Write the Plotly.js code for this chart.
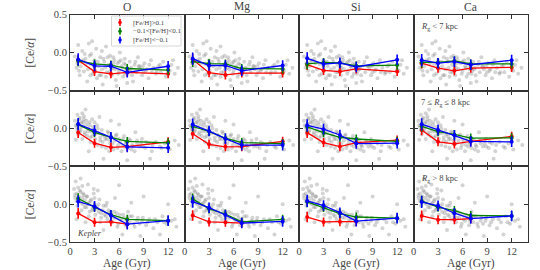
<!DOCTYPE html>
<html><head><meta charset="utf-8">
<script src="https://cdn.plot.ly/plotly-3.0.1.min.js"></script>
<style>html,body{margin:0;padding:0;background:#fff}#chart{width:540px;height:270px}</style>
</head><body><div id="chart"></div>
<script>
// ---------- data ----------
const elements = ['O', 'Mg', 'Si', 'Ca'];
const rowLabels = ['<i>R</i><sub>g</sub> &lt; 7 kpc', '7 ≤ <i>R</i><sub>g</sub> ≤ 8 kpc', '<i>R</i><sub>g</sub> &gt; 8 kpc'];
const groupNames = ['[Fe/H]&gt;0.1', '−0.1&lt;[Fe/H]&lt;0.1', '[Fe/H]&lt;−0.1'];
const ages = [1, 3, 5, 7, 12];
const agesShort = [1, 3, 5, 7];
const xTicks = [0, 3, 6, 9, 12];

// rows: [O, Mg, Si, Ca]
const redRow1 = [[-0.10,-0.25,-0.28,-0.26,-0.28],[-0.09,-0.265,-0.295,-0.27,-0.27],[-0.16,-0.235,-0.25,-0.215,-0.25],[-0.14,-0.205,-0.24,-0.205,-0.195]];
const greenRow1 = [[-0.11,-0.15,-0.165,-0.21,-0.23],[-0.12,-0.145,-0.15,-0.21,-0.215],[-0.15,-0.13,-0.135,-0.175,-0.165],[-0.13,-0.13,-0.11,-0.15,-0.15]];
const blueRow1 = [[-0.09,-0.175,-0.18,-0.26,-0.18],[-0.08,-0.17,-0.17,-0.24,-0.17],[-0.075,-0.15,-0.135,-0.19,-0.095],[-0.10,-0.14,-0.12,-0.16,-0.10]];

const redRow2 = [[-0.055,-0.195,-0.25,-0.24,-0.177],[-0.07,-0.21,-0.243,-0.24,-0.17],[-0.056,-0.187,-0.24,-0.187,-0.155],[-0.02,-0.177,-0.205,-0.17,-0.105]];
const greenRow2 = [[0.05,-0.053,-0.117,-0.172,-0.19],[0.025,-0.04,-0.13,-0.187,-0.20],[0.02,-0.056,-0.117,-0.14,-0.17],[0.028,-0.043,-0.08,-0.128,-0.125]];
const blueRow2 = [[0.057,-0.03,-0.117,-0.245,-0.256],[0.05,-0.035,-0.135,-0.22,-0.22],[0.04,-0.01,-0.087,-0.20,-0.195],[0.055,-0.02,-0.09,-0.172,-0.177]];

const redRow3 = [[-0.122,-0.24,-0.233,-0.265],[-0.15,-0.235,-0.24,-0.25],[-0.17,-0.235,-0.232,-0.23],[-0.155,-0.205,-0.205,-0.19]];
const greenRow3 = [[0.075,-0.04,-0.14,-0.20,-0.218],[0.07,-0.062,-0.13,-0.235,-0.20],[0.03,-0.045,-0.125,-0.17,-0.185],[0.04,-0.04,-0.085,-0.15,-0.155]];
const blueRow3 = [[0.035,-0.03,-0.148,-0.265,-0.218],[0.033,-0.047,-0.143,-0.25,-0.228],[0.043,-0.018,-0.113,-0.225,-0.185],[0.03,-0.022,-0.12,-0.19,-0.155]];

const redErr = [0.07, 0.06, 0.06, 0.06, 0.06];
const greenErr = [0.07, 0.06, 0.06, 0.06, 0.06];
const blueErr = [0.08, 0.07, 0.07, 0.07, 0.07];

// background star clouds (hand-estimated, one per row)
const cloud1Age = [0.6,0.8,1.0,1.2,1.4,1.5,1.7,1.9,2.1,2.3,2.5,2.6,2.8,3.0,3.2,3.3,3.5,3.7,3.9,4.0,4.2,4.4,4.5,4.7,4.9,5.1,5.2,5.4,5.6,5.8,6.0,6.1,6.3,6.5,6.7,6.9,7.1,7.3,7.5,7.7,7.9,8.1,8.3,8.6,8.8,9.1,9.3,9.6,9.9,10.2,10.5,10.8,11.1,11.4,11.7,12.0,12.4,12.8,13.2,2.0,3.6,5.0,6.6,8.4,1.1,4.6,7.0,9.0,2.7,5.7,
  1.3,1.6,2.2,2.4,2.9,3.1,3.4,3.8,4.1,4.3,4.8,5.3,5.5,5.9,6.2,6.4,6.8,7.2,7.6,8.0,8.5,9.4,10.0,11.0,12.2,0.9,1.8,3.0,4.4,5.0,6.0,7.4,8.9,10.6,12.6,2.5,3.9,5.3,6.7,9.7];
const cloud1Val = [-0.05,-0.20,0.10,-0.30,-0.12,0.02,-0.25,-0.08,-0.38,0.12,-0.15,-0.02,-0.28,-0.10,0.05,-0.34,-0.18,-0.06,-0.22,-0.42,-0.12,0.08,-0.26,-0.16,-0.04,-0.30,-0.20,-0.10,-0.36,-0.14,-0.24,0.00,-0.18,-0.32,-0.08,-0.22,-0.28,-0.12,-0.20,-0.38,-0.16,-0.26,-0.06,-0.22,-0.30,-0.14,-0.24,-0.34,-0.10,-0.20,-0.28,-0.18,-0.26,-0.12,-0.32,-0.22,-0.16,-0.28,-0.20,-0.14,-0.30,-0.22,-0.14,-0.18,-0.24,-0.06,-0.40,-0.26,0.15,-0.44,
  -0.18,-0.10,-0.22,-0.04,-0.16,-0.24,-0.12,-0.30,-0.08,-0.20,-0.26,-0.14,-0.22,-0.28,-0.10,-0.20,-0.16,-0.24,-0.30,-0.12,-0.18,-0.22,-0.26,-0.16,-0.24,-0.14,-0.02,-0.20,-0.32,-0.18,-0.12,-0.22,-0.18,-0.26,-0.10,-0.30,0.02,-0.06,-0.28,-0.16];
const cloud2Age = [0.6,0.8,0.9,1.0,1.1,1.2,1.3,1.4,1.5,1.6,1.7,1.8,2.0,2.1,2.2,2.4,2.5,2.6,2.8,3.0,3.1,3.3,3.4,3.5,3.7,3.9,4.0,4.2,4.4,4.5,4.7,4.9,5.1,5.3,5.5,5.7,5.9,6.1,6.3,6.5,6.7,6.9,7.1,7.4,7.6,7.9,8.2,8.5,8.8,9.2,9.6,10.0,10.5,11.0,11.6,12.2,12.8,13.3,1.9,3.6,5.0,2.3,4.1,6.0,8.0,0.7,1.5,2.7,9.8,7.0,
  0.7,0.9,1.1,1.3,1.6,1.8,2.0,2.2,2.4,2.7,2.9,3.2,3.4,3.7,4.0,4.3,4.6,4.9,5.2,5.6,6.0,6.4,6.8,7.2,7.7,8.2,8.7,9.3,10.1,11.2,1.2,1.7,2.5,3.0,3.9,4.8,5.8,6.6,7.5,8.9];
const cloud2Val = [0.10,0.02,0.18,-0.08,0.06,0.14,-0.02,0.08,-0.14,0.03,0.12,-0.05,0.05,-0.10,0.00,0.08,-0.18,-0.04,0.02,-0.08,-0.14,0.04,-0.22,-0.06,-0.12,-0.02,-0.18,-0.10,-0.26,-0.14,-0.06,-0.20,-0.12,-0.28,-0.16,-0.08,-0.22,-0.18,-0.30,-0.14,-0.24,-0.20,-0.26,-0.16,-0.22,-0.30,-0.20,-0.24,-0.14,-0.26,-0.20,-0.30,-0.18,-0.24,-0.20,-0.28,-0.16,-0.22,0.25,0.15,0.10,-0.30,-0.40,0.05,-0.05,-0.15,0.20,0.12,-0.40,-0.42,
  0.04,-0.02,0.12,0.02,0.08,-0.08,0.10,-0.04,0.04,-0.10,-0.02,-0.06,0.00,-0.16,-0.08,-0.14,-0.04,-0.16,-0.20,-0.10,-0.14,-0.22,-0.18,-0.14,-0.24,-0.16,-0.20,-0.18,-0.22,-0.26,-0.04,0.16,-0.12,0.08,-0.24,-0.30,-0.26,-0.10,-0.28,-0.24];
const cloud3Age = [0.5,0.6,0.7,0.8,0.9,1.0,1.1,1.2,1.3,1.4,1.5,1.6,1.7,1.8,2.0,2.1,2.3,2.4,2.6,2.8,3.0,3.1,3.3,3.5,3.6,3.8,4.0,4.2,4.4,4.6,4.8,5.0,5.2,5.4,5.6,5.9,6.1,6.3,6.6,6.8,7.0,7.3,7.6,7.9,8.2,8.5,8.9,9.3,9.7,10.2,10.7,11.3,11.8,12.4,13.0,2.2,3.4,5.5,7.5,9.0,1.9,4.1,6.4,8.6,12.0,0.8,1.3,2.9,11.0,6.0,
  0.6,0.8,1.0,1.2,1.4,1.6,1.8,2.0,2.2,2.5,2.7,3.0,3.2,3.5,3.8,4.1,4.4,4.7,5.0,5.3,5.7,6.1,6.5,6.9,7.3,7.8,8.3,8.8,9.5,10.4,11.5,1.1,1.5,2.3,2.9,3.7,4.5,5.8,7.1,12.8];
const cloud3Val = [0.20,0.08,0.30,0.14,-0.02,0.22,0.10,0.04,0.16,-0.08,0.08,0.00,0.12,0.05,-0.04,0.10,0.02,-0.10,0.06,-0.06,0.00,-0.14,-0.04,-0.10,0.06,-0.18,-0.08,-0.14,-0.02,-0.20,-0.12,-0.16,-0.24,-0.10,-0.18,-0.26,-0.14,-0.22,-0.18,-0.28,-0.20,-0.24,-0.16,-0.30,-0.22,-0.26,-0.18,-0.28,-0.20,-0.32,-0.24,-0.16,-0.26,-0.22,-0.30,0.26,0.18,0.08,0.02,0.10,-0.24,-0.34,-0.40,-0.42,0.00,-0.20,0.34,0.20,-0.40,0.25,
  0.12,0.04,0.08,0.18,0.02,0.14,-0.04,0.10,0.00,0.04,-0.08,0.08,-0.06,0.00,-0.12,-0.02,-0.16,-0.08,-0.10,-0.18,-0.12,-0.20,-0.14,-0.22,-0.16,-0.26,-0.18,-0.22,-0.24,-0.20,-0.24,-0.12,0.24,-0.16,0.14,-0.24,0.02,-0.30,-0.10,-0.20];

// ---------- layout helpers ----------
const W = 540, H = 270;
const colEdges = [70, 184.5, 299, 413.5, 528];
const rowEdges = [14.7, 90.5, 166.3, 242];
const colors = ['#ff0000', '#008000', '#0000ff'];
const rows = [
  {red: redRow1, green: greenRow1, blue: blueRow1, cAge: cloud1Age, cVal: cloud1Val, redX: ages},
  {red: redRow2, green: greenRow2, blue: blueRow2, cAge: cloud2Age, cVal: cloud2Val, redX: ages},
  {red: redRow3, green: greenRow3, blue: blueRow3, cAge: cloud3Age, cVal: cloud3Val, redX: agesShort}
];
const FONT = "'Liberation Serif', 'DejaVu Serif', serif";
const TXT = '#444444';

const traces = [];
const layout = {
  width: W, height: H, margin: {l: 0, r: 0, t: 0, b: 0},
  paper_bgcolor: '#fff', plot_bgcolor: '#fff', showlegend: false,
  font: {family: FONT, color: TXT, size: 10},
  annotations: [], shapes: []
};

for (let r = 0; r < 3; r++) {
  for (let c = 0; c < 4; c++) {
    const i = r * 4 + c + 1;
    const xa = 'x' + (i === 1 ? '' : i), ya = 'y' + (i === 1 ? '' : i);
    const xk = 'xaxis' + (i === 1 ? '' : i), yk = 'yaxis' + (i === 1 ? '' : i);
    layout[xk] = {
      domain: [colEdges[c] / W, colEdges[c + 1] / W], anchor: ya, range: [0, 14],
      tickvals: xTicks, ticks: 'inside', ticklen: 4, tickcolor: '#333',
      showline: true, mirror: 'ticks', linecolor: '#333', linewidth: 1,
      showgrid: false, zeroline: false, showticklabels: r === 2, ticklabelstandoff: -1,
      tickfont: {size: 10.5, family: FONT, color: TXT}
    };
    layout[yk] = {
      domain: [1 - rowEdges[r + 1] / H, 1 - rowEdges[r] / H], anchor: xa, range: [-0.5, 0.5],
      tickvals: r === 0 ? [-0.5, 0, 0.5] : [-0.5, 0],
      ticktext: r === 0 ? ['−0.5', '0.0', '0.5'] : ['−0.5', '0.0'],
      minor: r === 0 ? undefined : {tickvals: [0.5], ticks: 'inside', ticklen: 4, tickcolor: '#333'},
      ticks: 'inside', ticklen: 4, tickcolor: '#333',
      showline: true, mirror: 'ticks', linecolor: '#333', linewidth: 1,
      showgrid: false, zeroline: false, showticklabels: c === 0,
      tickfont: {size: 10.5, family: FONT, color: TXT}
    };
    const R = rows[r];
    traces.push({
      x: R.cAge, y: R.cVal, xaxis: xa, yaxis: ya, type: 'scatter', mode: 'markers',
      marker: {size: 4, color: 'rgba(110,110,110,0.3)'}, hoverinfo: 'skip'
    });
    const sets = [[R.redX, R.red[c], redErr], [ages, R.green[c], greenErr], [ages, R.blue[c], blueErr]];
    sets.forEach((s, k) => {
      traces.push({
        x: s[0], y: s[1], xaxis: xa, yaxis: ya, type: 'scatter', mode: 'lines+markers',
        line: {color: colors[k], width: 1.3}, marker: {color: colors[k], size: 4},
        error_y: {type: 'data', array: s[2].slice(0, s[0].length), color: colors[k], thickness: 1.6, width: 0}
      });
    });
  }
}

// column titles, axis titles
elements.forEach((e, c) => {
  layout.annotations.push({text: e, xref: 'paper', yref: 'paper', x: (colEdges[c] + colEdges[c + 1]) / 2 / W,
    y: 1 - 7 / H, showarrow: false, xanchor: 'center', yanchor: 'middle', font: {size: 11.5, family: FONT, color: TXT}});
  layout.annotations.push({text: 'Age (Gyr)', xref: 'paper', yref: 'paper', x: (colEdges[c] + colEdges[c + 1]) / 2 / W,
    y: 1 - 263.5 / H, showarrow: false, xanchor: 'center', yanchor: 'middle', font: {size: 11.5, family: FONT, color: TXT}});
});
for (let r = 0; r < 3; r++) {
  layout.annotations.push({text: '[Ce/<i>α</i>]', xref: 'paper', yref: 'paper', x: 30 / W,
    y: 1 - (rowEdges[r] + rowEdges[r + 1]) / 2 / H, textangle: -90, showarrow: false,
    xanchor: 'center', yanchor: 'middle', font: {size: 11.5, family: FONT, color: TXT}});
  layout.annotations.push({text: rowLabels[r], xref: 'paper', yref: 'paper', x: 419 / W,
    y: 1 - (rowEdges[r] + 12) / H, showarrow: false, xanchor: 'left', yanchor: 'middle',
    font: {size: 8.5, family: FONT, color: TXT}});
}
layout.annotations.push({text: '<i>Kepler</i>', xref: 'paper', yref: 'paper', x: 75 / W, y: 1 - 232.5 / H,
  showarrow: false, xanchor: 'left', yanchor: 'middle', font: {size: 8.5, family: FONT, color: TXT}});

// legend (drawn manually in the top-left panel)
layout.shapes.push({type: 'rect', xref: 'paper', yref: 'paper', x0: 111.5 / W, x1: 181 / W,
  y0: 1 - 46 / H, y1: 1 - 16 / H, line: {color: '#cccccc', width: 0.8}, fillcolor: 'rgba(255,255,255,0.85)'});
const legY = [22.5, 31.2, 40];
groupNames.forEach((g, k) => {
  layout.shapes.push({type: 'line', xref: 'paper', yref: 'paper', x0: 120 / W, x1: 120 / W,
    y0: 1 - (legY[k] - 3.5) / H, y1: 1 - (legY[k] + 3.5) / H, line: {color: colors[k], width: 1.6}});
  layout.shapes.push({type: 'circle', xref: 'paper', yref: 'paper', x0: 118.2 / W, x1: 121.8 / W,
    y0: 1 - (legY[k] - 1.8) / H, y1: 1 - (legY[k] + 1.8) / H, line: {width: 0}, fillcolor: colors[k]});
  layout.annotations.push({text: g, xref: 'paper', yref: 'paper', x: 131 / W, y: 1 - legY[k] / H,
    showarrow: false, xanchor: 'left', yanchor: 'middle', font: {size: 7, family: FONT, color: TXT}});
});

Plotly.newPlot('chart', traces, layout, {staticPlot: true, displayModeBar: false});
</script></body></html>
